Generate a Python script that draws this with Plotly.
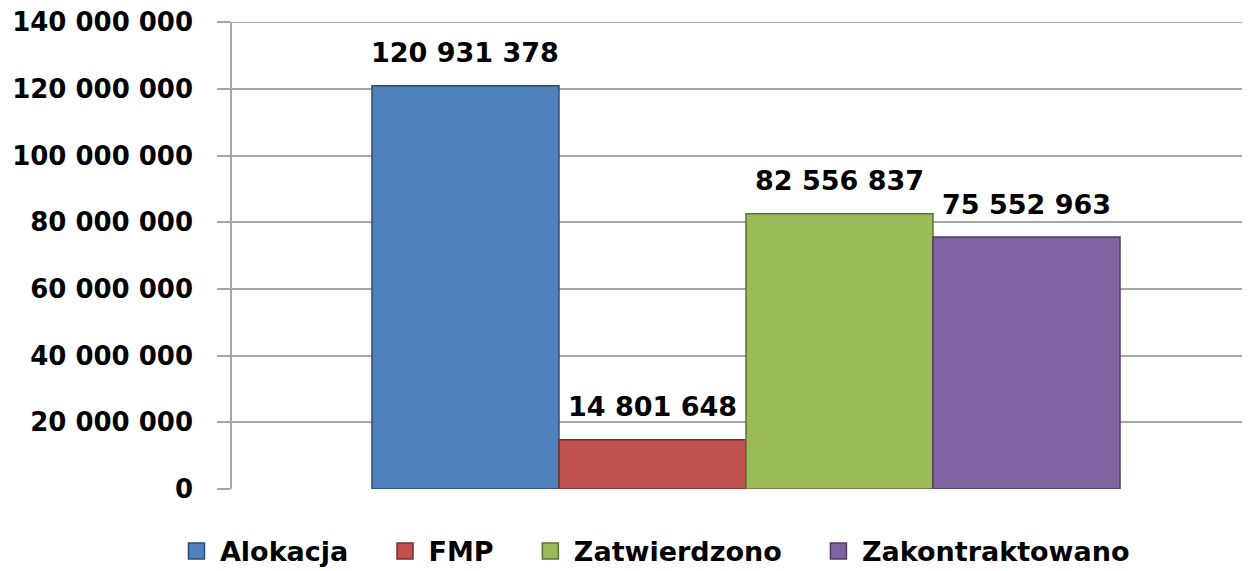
import plotly.graph_objects as go

categories = ["Alokacja", "FMP", "Zatwierdzono", "Zakontraktowano"]
values = [120931378, 14801648, 82556837, 75552963]
colors = ["#4F81BD", "#C0504D", "#9BBB59", "#8064A2"]
edge_colors = ["#2F4D71", "#73302E", "#5D7035", "#4C3C61"]
tick_vals = [0, 20000000, 40000000, 60000000, 80000000, 100000000, 120000000, 140000000]
tick_text = ["0", "20 000 000", "40 000 000", "60 000 000", "80 000 000",
             "100 000 000", "120 000 000", "140 000 000"]

def fmt(v):
    return f"{v:,}".replace(",", " ")

FONT = "DejaVu Sans"
BARGAP = 0.2723
PAD = "\u00a0\u00a0\u00a0"
fig = go.Figure()
for i, (name, v, c, ec) in enumerate(zip(categories, values, colors, edge_colors)):
    fig.add_trace(go.Bar(
        x=["g"], y=[v], name=name, showlegend=False,
        marker=dict(color=c, line=dict(color=ec, width=1.5)),
    ))
# legend entries with larger square swatches
for i, (name, c, ec) in enumerate(zip(categories, colors, edge_colors)):
    fig.add_trace(go.Scatter(
        x=[None], y=[None], mode="markers",
        name=name + (PAD if i < len(categories) - 1 else ""),
        marker=dict(symbol="square", size=18, color=c, line=dict(color=ec, width=1.5)),
        showlegend=True,
    ))

# data labels as annotations above each bar of the group
n = len(values)
bw = (1 - BARGAP) / n
for i, v in enumerate(values):
    xc = -(1 - BARGAP) / 2 + bw * (i + 0.5)
    fig.add_annotation(x=xc, y=v, xref="x", yref="y", text=fmt(v), showarrow=False,
                       yanchor="middle", yshift=33,
                       font=dict(family=FONT, size=27, color="#000000", weight="bold"))

# top gridline (at the upper end of the axis range)
fig.add_shape(type="line", xref="paper", yref="y", x0=0, x1=1,
              y0=tick_vals[-1], y1=tick_vals[-1],
              line=dict(color="#A6A6A6", width=1.5), layer="below")

fig.update_layout(
    width=1242, height=563,
    margin=dict(l=224, r=0, t=14, b=82, autoexpand=False),
    paper_bgcolor="white", plot_bgcolor="white",
    barmode="group", bargap=BARGAP, bargroupgap=0,
    font=dict(family=FONT, size=26, color="#000000", weight="bold"),
    showlegend=True,
    legend=dict(orientation="h", x=0.4145, xanchor="center", y=-0.081, yanchor="top",
                font=dict(family=FONT, size=27, color="#000000", weight="bold"),
                itemwidth=37, traceorder="normal", itemsizing="trace"),
    xaxis=dict(range=[-0.5, 0.4903], showticklabels=False, showgrid=False,
               zeroline=False, showline=False, automargin=False),
    yaxis=dict(range=[0, 140050000], tickvals=tick_vals, ticktext=tick_text,
               showgrid=True, gridcolor="#A6A6A6", gridwidth=1.5,
               showline=True, linecolor="#A6A6A6", linewidth=1.5,
               ticks="outside", ticklen=13, tickcolor="#A6A6A6", tickwidth=1.5,
               zeroline=False, automargin=False, ticklabelstandoff=19,
               ticklabeloverflow="allow",
               tickfont=dict(family=FONT, size=26, color="#000000", weight="bold")),
)
fig.write_html("out.html")
